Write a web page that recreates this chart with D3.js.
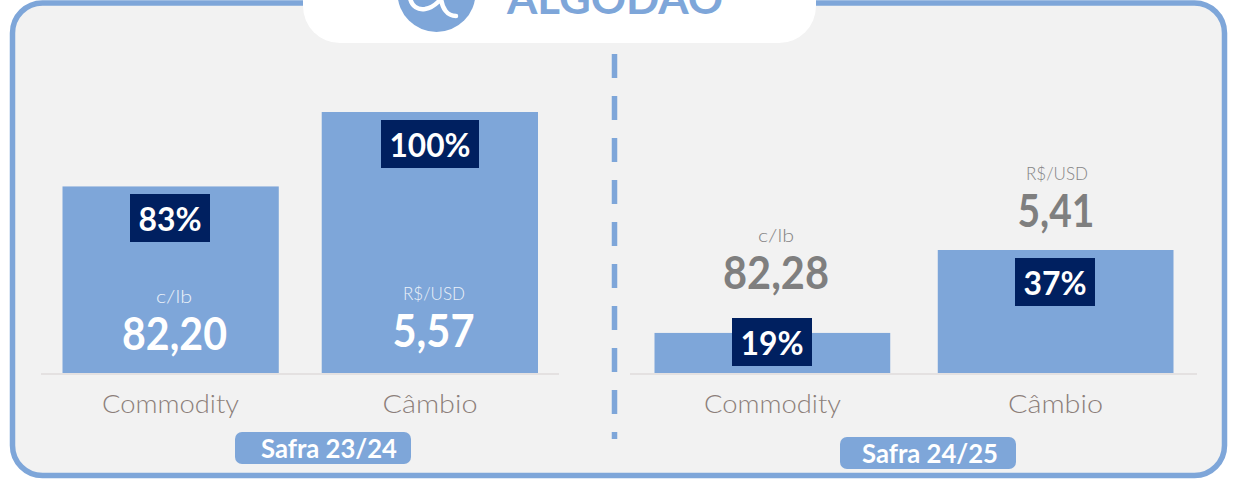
<!DOCTYPE html>
<html><head><meta charset="utf-8">
<script src="https://cdn.jsdelivr.net/npm/d3@7/dist/d3.min.js"></script>
<style>html,body{margin:0;padding:0;background:#fff}svg{display:block}</style></head>
<body><svg id="c" width="1243" height="484"></svg>
<script>
const categories = ["Commodity","Câmbio"];
const units = ["c/lb","R$/USD"];
const safras = ["Safra 23/24","Safra 24/25"];
const pct2324 = [83,100];
const pct2425 = [19,37];
const val2324 = ["82,20","5,57"];
const val2425 = ["82,28","5,41"];
const title = "ALGODÃO";

const BLUE="#7ea6d9", NAVY="#002060", BG="#f2f2f2", AXIS="#e4e1e1", CAT="#8c7f7a", GREY="#7f7f7f";
const geo="Lato, 'Open Sans', sans-serif";
const svg=d3.select("#c");
svg.append("rect").attr("x",12.5).attr("y",3).attr("width",1212).attr("height",472.5).attr("rx",30)
  .attr("fill",BG).attr("stroke",BLUE).attr("stroke-width",5.5);
// title tab
svg.append("path").attr("fill","#fff")
  .attr("d","M303,-5H816V6a37,37 0 0 1 -37,37H340a37,37 0 0 1 -37,-37Z");
svg.append("circle").attr("cx",436.5).attr("cy",-7).attr("r",39).attr("fill",BLUE);
svg.append("path").attr("fill","none").attr("stroke","#fff").attr("stroke-width",4.5).attr("stroke-linecap","round")
  .attr("d","M410,-2C412,7 418,10 425,9C431,8 435,5 438,2M441,-2C442,8 447,16 456,16");
svg.append("text").attr("x",507).attr("y",14).attr("font-family",geo).attr("font-weight",700)
  .attr("font-size",42).attr("fill",BLUE).attr("textLength",216).attr("lengthAdjust","spacingAndGlyphs").text(title);
// divider
svg.append("line").attr("x1",614.5).attr("x2",614.5).attr("y1",54).attr("y2",439)
  .attr("stroke",BLUE).attr("stroke-width",5.5).attr("stroke-dasharray","24 18");

const panels=[
 {pct:pct2324,val:val2324,safra:safras[0],range:[62.5,538],pad:.1657,axis:[41,559],dom:[40.4,100],top:112,sx:235,sy:432,tx:94,
  pctX:[170,430],pctY:[194,120],unitX:[174,434],unitY:[303,300],valX:[174.5,433.5],valY:[350,347],catX:[170.5,430],col:"#fff",uo:.85},
 {pct:pct2425,val:val2425,safra:safras[1],range:[654.5,1173.5],pad:.1678,axis:[630,1197],dom:[10.3,37],top:250,sx:840,sy:437,tx:90,
  pctX:[772,1055],pctY:[318,258],unitX:[776,1057],unitY:[242,180],valX:[776,1056],valY:[289,227],catX:[772.5,1055.5],col:GREY,uo:.95}
];
const pctW=d=>d===100?98:80;
const valW=[[105,82],[106,77]], unitW=[36,62], catW=[137,95];
const base=373;
panels.forEach((p,k)=>{
  const x=d3.scaleBand().domain(categories).range(p.range).paddingInner(p.pad).paddingOuter(0);
  const y=d3.scaleLinear().domain(p.dom).range([base,p.top]);
  const g=svg.append("g");
  const label=(cx,yy,size,weight,fill,txt,len)=>g.append("text").attr("x",cx).attr("y",yy).attr("text-anchor","middle")
      .attr("font-family",geo).attr("font-weight",weight).attr("font-size",size).attr("fill",fill)
      .attr("textLength",len).attr("lengthAdjust","spacingAndGlyphs").text(txt);
  categories.forEach((c,i)=>{
    const top=y(p.pct[i]);
    g.append("rect").attr("x",x(c)).attr("y",top).attr("width",x.bandwidth()).attr("height",base-top).attr("fill",BLUE);
    const w=pctW(p.pct[i]);
    g.append("rect").attr("x",p.pctX[i]-w/2).attr("y",p.pctY[i]).attr("width",w).attr("height",48).attr("fill",NAVY);
    label(p.pctX[i],p.pctY[i]+37,33,700,"#fff",p.pct[i]+"%",w-17);
    label(p.unitX[i],p.unitY[i],18,300,p.col,units[i],unitW[i]).attr("opacity",p.uo);
    label(p.valX[i],p.valY[i],46,700,p.col,p.val[i],valW[k][i]);
    label(p.catX[i],413,25,300,CAT,c,catW[i]);
  });
  g.append("line").attr("x1",p.axis[0]).attr("x2",p.axis[1]).attr("y1",374).attr("y2",374).attr("stroke",AXIS).attr("stroke-width",2);
  g.append("rect").attr("x",p.sx).attr("y",p.sy).attr("width",176).attr("height",32).attr("rx",7).attr("fill",BLUE);
  g.append("text").attr("x",p.sx+p.tx).attr("y",p.sy+26).attr("text-anchor","middle")
    .attr("font-family",geo).attr("font-weight",700).attr("font-size",26).attr("fill","#fff")
    .attr("textLength",136).attr("lengthAdjust","spacingAndGlyphs").text(p.safra);
});
</script></body></html>
